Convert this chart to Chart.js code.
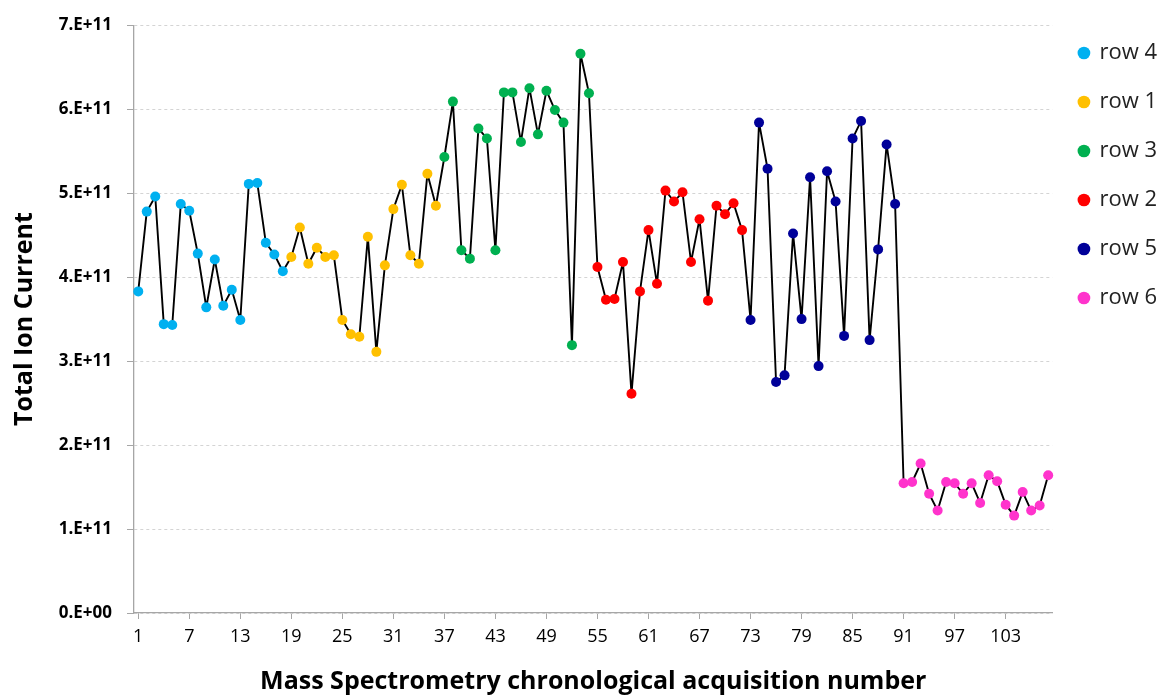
<!DOCTYPE html>
<html>
<head>
<meta charset="utf-8">
<script src="https://cdn.jsdelivr.net/npm/chart.js@4.4.1/dist/chart.umd.min.js"></script>
<style>
  html, body { margin: 0; padding: 0; background: #fff; }
  #wrap { width: 1169px; height: 699px; position: relative; }
</style>
</head>
<body>
<div id="wrap"><canvas id="tic"></canvas></div>
<script>
// Total ion current per acquisition, 18 acquisitions per plate row (in run order)
const ROW_NAMES  = ['row 4', 'row 1', 'row 3', 'row 2', 'row 5', 'row 6'];
const ROW_COLORS = ['#00b0f0', '#ffc000', '#00b050', '#ff0000', '#000099', '#ff33cc'];

const row4 = [3.83e11, 4.78e11, 4.96e11, 3.44e11, 3.43e11, 4.87e11, 4.79e11, 4.28e11, 3.64e11,
              4.21e11, 3.66e11, 3.85e11, 3.49e11, 5.11e11, 5.12e11, 4.41e11, 4.27e11, 4.07e11];
const row1 = [4.24e11, 4.59e11, 4.16e11, 4.35e11, 4.24e11, 4.26e11, 3.49e11, 3.32e11, 3.29e11,
              4.48e11, 3.11e11, 4.14e11, 4.81e11, 5.10e11, 4.26e11, 4.16e11, 5.23e11, 4.85e11];
const row3 = [5.43e11, 6.09e11, 4.32e11, 4.22e11, 5.77e11, 5.65e11, 4.32e11, 6.20e11, 6.20e11,
              5.61e11, 6.25e11, 5.70e11, 6.22e11, 5.99e11, 5.84e11, 3.19e11, 6.66e11, 6.19e11];
const row2 = [4.12e11, 3.73e11, 3.74e11, 4.18e11, 2.61e11, 3.83e11, 4.56e11, 3.92e11, 5.03e11,
              4.90e11, 5.01e11, 4.18e11, 4.69e11, 3.72e11, 4.85e11, 4.75e11, 4.88e11, 4.56e11];
const row5 = [3.49e11, 5.84e11, 5.29e11, 2.75e11, 2.83e11, 4.52e11, 3.50e11, 5.19e11, 2.94e11,
              5.26e11, 4.90e11, 3.30e11, 5.65e11, 5.86e11, 3.25e11, 4.33e11, 5.58e11, 4.87e11];
const row6 = [1.545e11, 1.56e11, 1.78e11, 1.42e11, 1.22e11, 1.56e11, 1.545e11, 1.42e11, 1.545e11,
              1.31e11, 1.64e11, 1.57e11, 1.29e11, 1.16e11, 1.44e11, 1.22e11, 1.28e11, 1.64e11];

const ROWS = [row4, row1, row3, row2, row5, row6];
const Y_MAX = 7e11;
const Y_STEP = 1e11;

// acquisition numbers 1..N
const allValues = ROWS.flat();
const labels = allValues.map((_, i) => String(i + 1));

// each row gets its own marker dataset, nulls outside its block
let start = 0;
const rowSets = ROWS.map((vals, r) => {
  const data = labels.map(() => null);
  vals.forEach((v, j) => { data[start + j] = v; });
  start += vals.length;
  return {
    label: ROW_NAMES[r],
    data,
    order: 0,
    showLine: false,
    pointRadius: 5,
    pointHoverRadius: 5,
    pointBorderWidth: 0,
    backgroundColor: ROW_COLORS[r],
    borderColor: ROW_COLORS[r],
    pointBackgroundColor: ROW_COLORS[r],
  };
});

// black line through every acquisition, drawn underneath the markers
const lineSet = {
  label: 'all',
  data: allValues,
  order: 1,
  borderColor: '#000',
  borderWidth: 1.9,
  borderJoinStyle: 'round',
  pointRadius: 0,
  tension: 0,
};

function sciLabel(v) {
  if (v === 0) return '0.E+00';
  const exp = Math.floor(Math.log10(v));
  const mant = Math.round(v / Math.pow(10, exp));
  return mant + '.E+' + String(exp).padStart(2, '0');
}

new Chart(document.getElementById('tic'), {
  type: 'line',
  data: { labels, datasets: [...rowSets, lineSet] },
  options: {
    responsive: true,
    maintainAspectRatio: false,
    animation: false,
    layout: { padding: { top: 15, right: 2, left: 0, bottom: 0 } },
    plugins: {
      tooltip: { enabled: false },
      legend: {
        position: 'right',
        align: 'start',
        labels: {
          usePointStyle: true,
          pointStyle: 'circle',
          boxWidth: 9,
          boxHeight: 9,
          padding: 27,
          color: '#222',
          font: { family: 'Open Sans', size: 22 },
          filter: item => item.datasetIndex < ROWS.length,
        },
      },
    },
    scales: {
      x: {
        offset: true,
        afterFit: s => { s.height = 86; },
        grid: {
          drawOnChartArea: false,
          tickLength: 6,
          tickColor: ctx => (ctx.index % 6 === 0 ? '#a6a6a6' : 'rgba(0,0,0,0)'),
        },
        border: { display: true, color: '#a6a6a6', width: 1.3 },
        ticks: {
          autoSkip: false,
          maxRotation: 0,
          padding: 7,
          color: '#000',
          font: { family: 'Open Sans', size: 18 },
          callback: (v, i) => (i % 6 === 0 ? labels[i] : ''),
        },
        title: {
          display: true,
          text: 'Mass Spectrometry chronological acquisition number',
          color: '#000',
          font: { family: 'Open Sans', size: 25, weight: 'bold' },
          padding: { top: 0, bottom: 2 },
        },
      },
      y: {
        min: 0,
        max: Y_MAX,
        afterFit: s => { s.width = 134; },
        grid: { color: '#d4d4d4', tickColor: '#a6a6a6', tickLength: 7, lineWidth: 1 },
        border: { display: true, color: '#a6a6a6', width: 1.3, dash: [3, 3] },
        ticks: {
          stepSize: Y_STEP,
          padding: 15,
          color: '#000',
          font: { family: 'Open Sans', size: 17, weight: 'bold' },
          callback: v => sciLabel(v),
        },
        title: {
          display: true,
          text: 'Total Ion Current',
          color: '#000',
          font: { family: 'Open Sans', size: 25, weight: 'bold' },
          padding: { top: 10, bottom: 0 },
        },
      },
    },
  },
});
</script>
</body>
</html>
